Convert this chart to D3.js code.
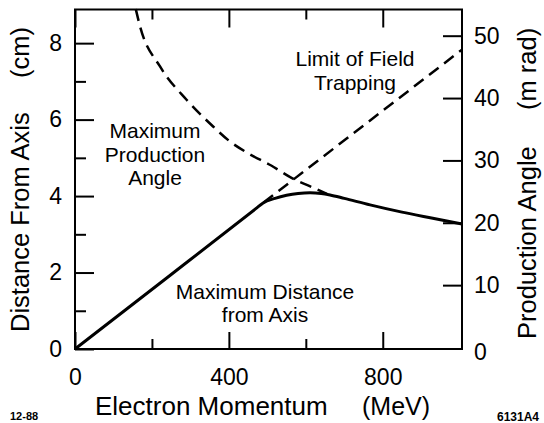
<!DOCTYPE html>
<html>
<head>
<meta charset="utf-8">
<script src="https://cdn.jsdelivr.net/npm/d3@7"></script>
<style>
    body { margin: 0; background: #fff; }
    svg { display: block; font-family: "Liberation Sans", Arial, Helvetica, sans-serif; }
</style>
</head>
<body>
<div id="chart"></div>
<script>
// Values: momentum in MeV, distance in cm
const solidMomentum = [0, 240, 470, 489, 520, 550, 580, 611, 640, 663, 700, 767, 850, 930, 1006];
const solidDistance = [0, 1.87, 3.67, 3.82, 3.94, 4.02, 4.07, 4.09, 4.07, 4.03, 3.94, 3.77, 3.58, 3.42, 3.27];

// Limit of field trapping (dashed straight line)
const trapMomentum = [490, 1006];
const trapDistance = [3.83, 7.83];

// Maximum production angle (dashed curve)
const angleMomentum = [158, 169, 221, 290, 359, 400, 450, 510, 564, 610, 655];
const angleDistance = [8.89, 8.44, 7.39, 6.52, 5.82, 5.45, 5.12, 4.80, 4.47, 4.26, 4.06];

const xMajorTicks = [0, 400, 800];
const xMinorTicks = [200, 600];
const leftMajorTicks = [0, 2, 4, 6, 8];
const leftMinorTicks = [1, 3, 5, 7];
const rightTicks = [0, 10, 20, 30, 40, 50];

const width = 544;
const height = 423;

const svg = d3.select('#chart')
              .append('svg')
              .attr('width', width)
              .attr('height', height);

const x = d3.scaleLinear().domain([0, 1006]).range([75, 462]);
const yLeft = d3.scaleLinear().domain([0, 8.88]).range([349, 9.5]);
const yRight = d3.scaleLinear().domain([0, 54.2]).range([347.5, 9.5]);

function styleAxis(g, size) {
    g.attr('font-size', size).attr('font-family', null);
    g.select('.domain').remove();
    g.selectAll('.tick line').attr('stroke', '#000').attr('stroke-width', 2);
    g.selectAll('.tick text').attr('fill', '#000');
}

// bottom axis
svg.append('g')
   .attr('transform', `translate(0,${yLeft(0)})`)
   .call(d3.axisBottom(x).tickValues(xMajorTicks).tickSize(-17).tickPadding(20).tickFormat(d3.format('d')))
   .call(g => styleAxis(g, 23));
svg.append('g')
   .attr('transform', `translate(0,${yLeft(0)})`)
   .call(d3.axisBottom(x).tickValues(xMinorTicks).tickSize(-10).tickFormat(''))
   .call(g => styleAxis(g, 23));

// top axis
svg.append('g')
   .attr('transform', `translate(0,${yLeft.range()[1]})`)
   .call(d3.axisTop(x).tickValues(xMajorTicks).tickSize(-18).tickFormat(''))
   .call(g => styleAxis(g, 23));
svg.append('g')
   .attr('transform', `translate(0,${yLeft.range()[1]})`)
   .call(d3.axisTop(x).tickValues(xMinorTicks).tickSize(-10).tickFormat(''))
   .call(g => styleAxis(g, 23));

// left axis
svg.append('g')
   .attr('transform', `translate(${x(0)},0)`)
   .call(d3.axisLeft(yLeft).tickValues(leftMajorTicks).tickSize(-19).tickPadding(13).tickFormat(d3.format('d')))
   .call(g => styleAxis(g, 23));
svg.append('g')
   .attr('transform', `translate(${x(0)},0)`)
   .call(d3.axisLeft(yLeft).tickValues(leftMinorTicks).tickSize(-11).tickFormat(''))
   .call(g => styleAxis(g, 23));

// right axis
svg.append('g')
   .attr('transform', `translate(${x.range()[1]},0)`)
   .call(d3.axisRight(yRight).tickValues(rightTicks).tickSize(-19).tickPadding(12).tickFormat(d3.format('d')))
   .call(g => styleAxis(g, 23))
   .call(g => g.selectAll('.tick').filter(d => d === 0).select('line').remove())
   .call(g => g.selectAll('.tick').filter(d => d === 0).select('text').attr('dy', '0.5em'));

// frame
svg.append('rect')
   .attr('x', x.range()[0])
   .attr('y', yLeft.range()[1])
   .attr('width', x.range()[1] - x.range()[0])
   .attr('height', yLeft.range()[0] - yLeft.range()[1])
   .attr('fill', 'none')
   .attr('stroke', '#000')
   .attr('stroke-width', 2);

const line = d3.line()
               .x(d => x(d[0]))
               .y(d => yLeft(d[1]))
               .curve(d3.curveMonotoneX);

svg.append('path')
   .datum(d3.zip(solidMomentum, solidDistance))
   .attr('fill', 'none')
   .attr('stroke', '#000')
   .attr('stroke-width', 3)
   .attr('d', line);

svg.append('path')
   .datum(d3.zip(trapMomentum, trapDistance))
   .attr('fill', 'none')
   .attr('stroke', '#000')
   .attr('stroke-width', 2.5)
   .attr('stroke-dasharray', '12,7')
   .attr('d', line);

svg.append('path')
   .datum(d3.zip(angleMomentum, angleDistance))
   .attr('fill', 'none')
   .attr('stroke', '#000')
   .attr('stroke-width', 2.5)
   .attr('stroke-dasharray', '12,7')
   .attr('d', line);

// annotations inside the plot, one text per block
const notes = [
    { lines: ['Maximum', 'Production', 'Angle'], x: 155, y: 138, step: 23.5 },
    { lines: ['Limit of Field', 'Trapping'], x: 355, y: 66, step: 23.5 },
    { lines: ['Maximum Distance', 'from Axis'], x: 265, y: 298.5, step: 23.5 }
];
notes.forEach(n => {
    const t = svg.append('text')
                 .attr('x', n.x)
                 .attr('y', n.y)
                 .attr('text-anchor', 'middle')
                 .attr('font-size', '21px');
    n.lines.forEach((s, i) => {
        t.append('tspan')
         .attr('x', n.x)
         .attr('dy', i === 0 ? 0 : n.step)
         .text(s);
    });
});

// axis titles
svg.append('text')
   .attr('x', 95).attr('y', 415)
   .attr('font-size', '26px')
   .text('Electron Momentum');
svg.append('text')
   .attr('x', 362).attr('y', 415)
   .attr('font-size', '25px')
   .text('(MeV)');

svg.append('text')
   .attr('transform', 'translate(29,332) rotate(-90)')
   .attr('font-size', '25.5px')
   .text('Distance From Axis');
svg.append('text')
   .attr('transform', 'translate(29,78) rotate(-90)')
   .attr('font-size', '25.5px')
   .text('(cm)');

svg.append('text')
   .attr('transform', 'translate(536,339) rotate(-90)')
   .attr('font-size', '25.5px')
   .text('Production Angle');
svg.append('text')
   .attr('transform', 'translate(536,110) rotate(-90)')
   .attr('font-size', '25.5px')
   .text('(m rad)');

// figure codes
svg.append('text')
   .attr('x', 10).attr('y', 420)
   .attr('font-size', '11px')
   .attr('font-weight', 'bold')
   .text('12-88');
svg.append('text')
   .attr('x', 497).attr('y', 420.5)
   .attr('font-size', '12px')
   .attr('font-weight', 'bold')
   .text('6131A4');
</script>
</body>
</html>
